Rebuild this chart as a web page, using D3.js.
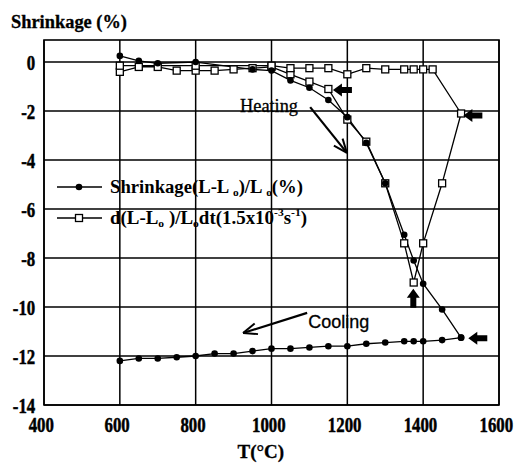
<!DOCTYPE html>
<html>
<head>
<meta charset="utf-8">
<script src="https://cdn.jsdelivr.net/npm/d3@7"></script>
<style>
  body { margin: 0; background: #fff; }
  svg { display: block; }
  .serif { font-family: "Liberation Serif", "Times New Roman", serif; }
</style>
</head>
<body>
<script>
// temperature ticks and shrinkage ticks
var xTicks = [400, 600, 800, 1000, 1200, 1400, 1600];
var yTicks = [0, -2, -4, -6, -8, -10, -12, -14];

// shrinkage while heating (filled dots)
var heatT = [600, 650, 700, 800, 950, 1000, 1050, 1100, 1150, 1200, 1250, 1300, 1350, 1375, 1400, 1450, 1500];
var heatS = [0.25, 0.05, -0.05, 0, -0.3, -0.35, -0.75, -1.05, -1.55, -2.25, -3.3, -4.95, -7.05, -8.1, -9.05, -10.1, -11.25];

// shrinkage while cooling (filled dots)
var coolT = [1500, 1450, 1400, 1375, 1350, 1300, 1250, 1200, 1150, 1100, 1050, 1000, 950, 900, 850, 800, 750, 700, 650, 600];
var coolS = [-11.25, -11.35, -11.4, -11.4, -11.4, -11.45, -11.5, -11.6, -11.6, -11.65, -11.7, -11.7, -11.8, -11.9, -11.9, -12.0, -12.05, -12.1, -12.1, -12.2];

// shrinkage rate (open squares), drawn in the order of the original plot
var rateT = [600, 650, 700, 750, 800, 850, 900, 950, 1000, 1050, 1100, 1150, 1200, 1250, 1300, 1350, 1375, 1400, 1450, 1500,
             1425, 1400, 1375, 1350, 1300, 1250, 1200, 1150, 1100, 1050, 1000, 800, 600];
var rateS = [-0.4, -0.2, -0.2, -0.35, -0.35, -0.35, -0.3, -0.25, -0.2, -0.5, -0.8, -1.1, -2.35, -3.25, -4.95, -7.4, -9.0, -7.4, -4.95, -2.1,
             -0.3, -0.3, -0.3, -0.3, -0.3, -0.25, -0.5, -0.25, -0.25, -0.25, -0.15, -0.15, -0.15];

// plot box inside the 514x463 window
var margin = {top: 40, right: 15, bottom: 58, left: 44},
    width = 514 - margin.left - margin.right,
    height = 463 - margin.top - margin.bottom;

var x = d3.scaleLinear().domain([400, 1600]).range([0, width]);
var y = d3.scaleLinear().domain([-14, 0.9]).range([height, 0]);

var svg = d3.select("body").append("svg")
    .attr("width", 514)
    .attr("height", 463);

var g = svg.append("g")
    .attr("transform", "translate(" + margin.left + "," + margin.top + ")");

// grid lines
g.append("g").selectAll("line")
    .data(xTicks)
    .enter().append("line")
    .attr("x1", function(d) { return x(d); })
    .attr("x2", function(d) { return x(d); })
    .attr("y1", 0)
    .attr("y2", height)
    .attr("stroke", "#000")
    .attr("stroke-width", 1.5);

g.append("g").selectAll("line")
    .data(yTicks)
    .enter().append("line")
    .attr("x1", 0)
    .attr("x2", width)
    .attr("y1", function(d) { return y(d); })
    .attr("y2", function(d) { return y(d); })
    .attr("stroke", "#000")
    .attr("stroke-width", 1.5);

g.append("rect")
    .attr("width", width)
    .attr("height", height)
    .attr("fill", "none")
    .attr("stroke", "#000")
    .attr("stroke-width", 1.6);

// plain hyphen labels, no thousands comma
var plain = function(d) { return String(d); };

// axes: only the labels are kept, grid does the rest
var xAxis = g.append("g")
    .attr("transform", "translate(0," + height + ")")
    .call(d3.axisBottom(x).tickValues(xTicks).tickFormat(plain).tickSize(0).tickPadding(0));
xAxis.select(".domain").remove();
xAxis.attr("font-family", null).attr("font-size", null);
xAxis.selectAll("text")
    .attr("class", "serif")
    .attr("y", 27)
    .attr("dy", 0)
    .attr("x", -4)
    .attr("transform", "scale(0.8,1)")
    .style("font-family", "\"Liberation Serif\", serif")
    .style("font-weight", "bold")
    .style("font-size", "21px")
    .attr("fill", "#000")
    .attr("stroke", "#000")
    .attr("stroke-width", 0.5);

var yAxis = g.append("g")
    .call(d3.axisLeft(y).tickValues(yTicks).tickFormat(plain).tickSize(0).tickPadding(0));
yAxis.select(".domain").remove();
yAxis.attr("font-family", null).attr("font-size", null);
yAxis.selectAll("text")
    .attr("class", "serif")
    .attr("x", -11)
    .attr("dy", "0.36em")
    .attr("transform", "scale(0.8,1)")
    .style("font-family", "\"Liberation Serif\", serif")
    .style("font-weight", "bold")
    .style("font-size", "21px")
    .attr("fill", "#000")
    .attr("stroke", "#000")
    .attr("stroke-width", 0.5);

// axis titles
svg.append("text")
    .attr("class", "serif")
    .attr("x", 11)
    .attr("y", 28)
    .style("font-weight", "bold")
    .style("font-size", "18px")
    .attr("stroke", "#000").attr("stroke-width", 0.3)
    .attr("textLength", 116).attr("lengthAdjust", "spacingAndGlyphs")
    .text("Shrinkage (%)");

svg.append("text")
    .attr("class", "serif")
    .attr("x", margin.left + x(1000) - 34)
    .attr("y", 458)
    .style("font-weight", "bold")
    .style("font-size", "19px")
    .attr("stroke", "#000").attr("stroke-width", 0.3)
    .text("T(\u00b0C)");

// series lines
function pts(ts, vs) {
    return ts.map(function(t, i) { return [t, vs[i]]; });
}
var line = d3.line()
    .x(function(d) { return x(d[0]); })
    .y(function(d) { return y(d[1]); });

var heat = pts(heatT, heatS),
    cool = pts(coolT, coolS),
    rate = pts(rateT, rateS);

[heat, cool, rate].forEach(function(s) {
    g.append("path")
        .datum(s)
        .attr("d", line)
        .attr("fill", "none")
        .attr("stroke", "#000")
        .attr("stroke-width", 1.3);
});

// open squares
g.append("g").selectAll("rect")
    .data(rate)
    .enter().append("rect")
    .attr("x", function(d) { return x(d[0]) - 3.5; })
    .attr("y", function(d) { return y(d[1]) - 3.5; })
    .attr("width", 7)
    .attr("height", 7)
    .attr("fill", "#fff")
    .attr("stroke", "#000")
    .attr("stroke-width", 1.3);

// filled dots
g.append("g").selectAll("circle")
    .data(heat.concat(cool))
    .enter().append("circle")
    .attr("cx", function(d) { return x(d[0]); })
    .attr("cy", function(d) { return y(d[1]); })
    .attr("r", 3.3)
    .attr("fill", "#000");

// legend
var leg = svg.append("g");
leg.append("line")
    .attr("x1", 57).attr("x2", 102).attr("y1", 187).attr("y2", 187)
    .attr("stroke", "#000").attr("stroke-width", 1.3);
leg.append("circle")
    .attr("cx", 79).attr("cy", 187).attr("r", 3.3).attr("fill", "#000");
leg.append("line")
    .attr("x1", 57).attr("x2", 102).attr("y1", 218).attr("y2", 218)
    .attr("stroke", "#000").attr("stroke-width", 1.3);
leg.append("rect")
    .attr("x", 75.5).attr("y", 214.5).attr("width", 7).attr("height", 7)
    .attr("fill", "#fff").attr("stroke", "#000").attr("stroke-width", 1.3);

var t1 = leg.append("text")
    .attr("class", "serif")
    .attr("x", 110).attr("y", 193)
    .style("font-weight", "bold").style("font-size", "18px")
    .attr("textLength", 193).attr("lengthAdjust", "spacingAndGlyphs");
t1.append("tspan").text("Shrinkage(L-L ");
t1.append("tspan").style("font-size", "11px").attr("dy", 3).text("o");
t1.append("tspan").attr("dy", -3).text(")/L ");
t1.append("tspan").style("font-size", "11px").attr("dy", 3).text("o");
t1.append("tspan").attr("dy", -3).text("(%)");

var t2 = leg.append("text")
    .attr("class", "serif")
    .attr("x", 110).attr("y", 224)
    .style("font-weight", "bold").style("font-size", "18px")
    .attr("textLength", 197).attr("lengthAdjust", "spacingAndGlyphs");
t2.append("tspan").text("d(L-L");
t2.append("tspan").style("font-size", "11px").attr("dy", 3).text("o");
t2.append("tspan").attr("dy", -3).text(" )/L");
t2.append("tspan").style("font-size", "11px").attr("dy", 3).text("o");
t2.append("tspan").attr("dy", -3).text("dt(1.5x10");
t2.append("tspan").style("font-size", "11px").attr("dy", -8).text("-3");
t2.append("tspan").attr("dy", 8).text("s");
t2.append("tspan").style("font-size", "11px").attr("dy", -8).text("-1");
t2.append("tspan").attr("dy", 8).text(")");

// annotation labels
g.append("text")
    .attr("class", "serif")
    .attr("x", x(917)).attr("y", y(-2.04))
    .style("font-size", "19px")
    .attr("stroke", "#000").attr("stroke-width", 0.3)
    .attr("textLength", 58).attr("lengthAdjust", "spacingAndGlyphs")
    .text("Heating");

g.append("text")
    .attr("x", x(1097)).attr("y", y(-10.86))
    .style("font-family", "\"Liberation Sans\", Arial, sans-serif").style("font-size", "18px")
    .attr("stroke", "#000").attr("stroke-width", 0.3)
    .attr("textLength", 61).attr("lengthAdjust", "spacingAndGlyphs")
    .text("Cooling");

// thin arrows with open heads: [from T, from val, to T, to val]
var thinArrows = [[1102, -1.84, 1199, -3.71], [1094, -10.24, 925, -11.06]];
thinArrows.forEach(function(a) {
    var x1 = x(a[0]), y1 = y(a[1]), x2 = x(a[2]), y2 = y(a[3]);
    var ang = Math.atan2(y2 - y1, x2 - x1), len = 15, spread = 0.38;
    g.append("line")
        .attr("x1", x1).attr("y1", y1).attr("x2", x2).attr("y2", y2)
        .attr("stroke", "#000").attr("stroke-width", 2.2);
    [-spread, spread].forEach(function(s) {
        g.append("line")
            .attr("x1", x2).attr("y1", y2)
            .attr("x2", x2 - len * Math.cos(ang + s))
            .attr("y2", y2 - len * Math.sin(ang + s))
            .attr("stroke", "#000").attr("stroke-width", 2);
    });
});

// block arrows: tip position and direction in degrees (180 = pointing left)
var blockArrows = [[1162, -1.14, 180], [1506, -2.18, 180], [1374, -9.25, -90], [1519, -11.28, 180]];
blockArrows.forEach(function(b) {
    var rot = b[2] === 180 ? 0 : 90;
    g.append("path")
        .attr("d", "M0,0 L9,-6.5 L9,-3 L19,-3 L19,3 L9,3 L9,6.5 Z")
        .attr("transform", "translate(" + x(b[0]) + "," + y(b[1]) + ") rotate(" + rot + ")")
        .attr("fill", "#000");
});
</script>
</body>
</html>
